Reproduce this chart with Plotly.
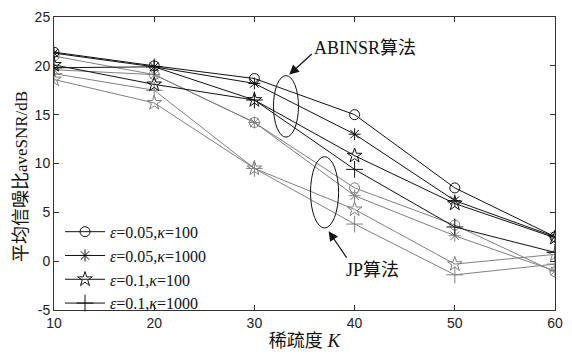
import plotly.graph_objects as go

# Sparsity levels K
K = [10, 20, 30, 40, 50, 60]

# ABINSR algorithm: average SNR (dB)
abinsr_e005_k100 = [21.4, 20.0, 18.7, 15.0, 7.5, 2.5]
abinsr_e005_k1000 = [21.3, 19.9, 18.2, 13.0, 6.2, 2.5]
abinsr_e01_k100 = [20.1, 18.1, 16.5, 10.8, 5.9, 2.4]
abinsr_e01_k1000 = [19.8, 19.9, 16.5, 9.4, 3.5, 0.9]

# JP algorithm: average SNR (dB)
jp_e005_k100 = [21.0, 19.1, 14.2, 7.5, 3.7, -1.1]
jp_e005_k1000 = [19.6, 19.1, 14.2, 6.7, 2.6, -1.0]
jp_e01_k100 = [18.6, 16.2, 9.5, 5.3, -0.3, 0.7]
jp_e01_k1000 = [19.2, 17.5, 9.5, 3.8, -1.4, -0.3]

legend_labels = [
    "<i>ε</i>=0.05,<i>κ</i>=100",
    "<i>ε</i>=0.05,<i>κ</i>=1000",
    "<i>ε</i>=0.1,<i>κ</i>=100",
    "<i>ε</i>=0.1,<i>κ</i>=1000",
]
y_ticks = [-5, 0, 5, 10, 15, 20, 25]
y_ticktext = ["-5", "0", "5", "10", "15", "20", "25"]
x_ticks = [10, 20, 30, 40, 50, 60]

symbols = ["circle-open", "asterisk-open", "star-open", "cross-thin-open"]
sizes = [10, 10, 11, 12]

SERIF = "Liberation Serif, Times New Roman, serif"
SANS = "Liberation Sans, Arial, sans-serif"
CJK_SPAN = "<span style='font-family:Noto Sans CJK SC;font-size:{}px'>{}</span>"

fig = go.Figure()

# gray JP curves first, black ABINSR curves on top
for vals, sym, sz in zip([jp_e005_k100, jp_e005_k1000, jp_e01_k100, jp_e01_k1000], symbols, sizes):
    fig.add_trace(go.Scatter(
        x=K, y=vals, mode="lines+markers", showlegend=False,
        line=dict(color="#808080", width=1),
        marker=dict(symbol=sym, size=sz, color="#808080", line=dict(color="#808080", width=1)),
    ))

for vals, sym, sz, name in zip([abinsr_e005_k100, abinsr_e005_k1000, abinsr_e01_k100, abinsr_e01_k1000],
                               symbols, sizes, legend_labels):
    fig.add_trace(go.Scatter(
        x=K, y=vals, mode="lines+markers", name=name,
        line=dict(color="#111111", width=1),
        marker=dict(symbol=sym, size=sz, color="#111111", line=dict(color="#111111", width=1)),
    ))

# group ellipses
fig.add_shape(type="circle", xref="x", yref="y", x0=31.9, x1=34.4, y0=12.7, y1=19.0,
              line=dict(color="#111111", width=1))
fig.add_shape(type="circle", xref="x", yref="y", x0=35.6, x1=38.4, y0=3.4, y1=10.7,
              line=dict(color="#111111", width=1))

# arrows
fig.add_annotation(x=33.48, y=19.1, xref="x", yref="y", ax=24, ay=-22, text="",
                   showarrow=True, arrowhead=2, arrowsize=1.6, arrowwidth=1.2, arrowcolor="#111111")
fig.add_annotation(x=37.41, y=3.07, xref="x", yref="y", ax=19, ay=28, text="",
                   showarrow=True, arrowhead=2, arrowsize=1.6, arrowwidth=1.2, arrowcolor="#111111")

# group labels
fig.add_annotation(x=41.04, y=22.05, xref="x", yref="y", showarrow=False,
                   text="ABINSR" + CJK_SPAN.format(18, "算法"),
                   font=dict(family=SERIF, size=18, color="#111111"))
fig.add_annotation(x=41.83, y=-0.66, xref="x", yref="y", showarrow=False,
                   text="JP" + CJK_SPAN.format(18, "算法"),
                   font=dict(family=SERIF, size=18, color="#111111"))

# y-axis title, drawn as a rotated annotation
fig.add_annotation(x=-0.071, y=0.455, xref="paper", yref="paper", showarrow=False,
                   textangle=-90, xanchor="center", yanchor="middle",
                   text=CJK_SPAN.format(18, "平均信噪比") + "aveSNR/dB",
                   font=dict(family=SERIF, size=17, color="#111"))

fig.update_layout(
    width=572, height=356,
    margin=dict(l=54, r=9, t=12, b=38),
    paper_bgcolor="white", plot_bgcolor="white",
    showlegend=True,
    legend=dict(x=0.012, y=0.325, xanchor="left", yanchor="top",
                bgcolor="rgba(255,255,255,0)", borderwidth=0,
                font=dict(family=SERIF, size=16, color="#111111"),
                tracegroupgap=0, itemwidth=40),
    xaxis=dict(
        range=[10, 60], tickvals=x_ticks, ticks="inside", ticklen=5, tickcolor="#333",
        showline=True, linecolor="#333", linewidth=1, mirror="ticks", showgrid=False, zeroline=False,
        tickfont=dict(family=SANS, size=14, color="#222"),
        title=dict(text=CJK_SPAN.format(18, "稀疏度") + " <i>K</i>",
                   font=dict(family=SERIF, size=19, color="#111"), standoff=3),
    ),
    yaxis=dict(
        range=[-5, 25], tickvals=y_ticks, ticktext=y_ticktext, ticks="inside", ticklen=5, tickcolor="#333",
        showline=True, linecolor="#333", linewidth=1, mirror="ticks", showgrid=False, zeroline=False,
        tickfont=dict(family=SANS, size=14, color="#222"),
    ),
)

fig.write_html("out.html")
